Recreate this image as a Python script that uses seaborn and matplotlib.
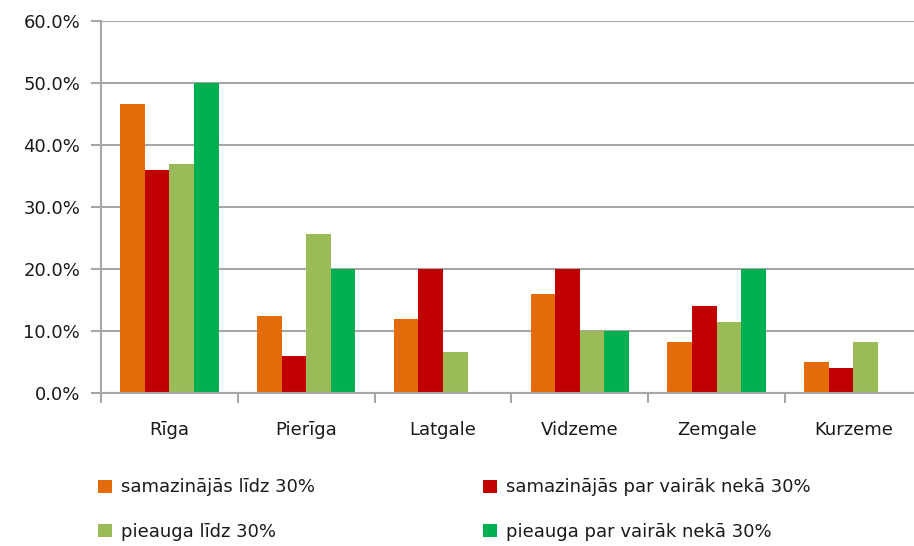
import numpy as np
import matplotlib
matplotlib.use("Agg")
import matplotlib.pyplot as plt
from matplotlib.ticker import PercentFormatter, FixedLocator
import pandas as pd
import seaborn as sns

# Chart data (shares, %)
regions = ['Rīga', 'Pierīga', 'Latgale', 'Vidzeme', 'Zemgale', 'Kurzeme']
series = ['samazinājās līdz 30%', 'samazinājās par vairāk nekā 30%',
          'pieauga līdz 30%', 'pieauga par vairāk nekā 30%']
decr_small = [46.7, 12.4, 11.9, 16.0, 8.2, 5.0]
decr_large = [36.0, 6.0, 20.0, 20.0, 14.0, 4.1]
incr_small = [36.9, 25.6, 6.6, 10.0, 11.5, 8.2]
incr_large = [50.0, 20.0, 0.0, 10.0, 20.0, 0.0]
colors = ['#E36C09', '#C00000', '#9BBB59', '#00B050']

sns.set_style("white")
plt.rcParams['font.family'] = ['DejaVu Sans']

# Long format table for seaborn
values = [decr_small, decr_large, incr_small, incr_large]
df = pd.DataFrame({
    'Region': [r for _ in series for r in regions],
    'Series': [s for s in series for _ in regions],
    'Value': [v for vals in values for v in vals],
})

fig = plt.figure(figsize=(9.14, 5.46), dpi=100)
# plot area runs slightly past the right edge, as in the original
ax = fig.add_axes([0.1105, 0.28, 0.898, 0.6815])

sns.barplot(data=df, x='Region', y='Value', hue='Series', hue_order=series,
            order=regions, palette=colors, width=0.72, saturation=1,
            edgecolor='none', ax=ax, legend=True)

ax.set_ylim(0, 60)
ax.set_xlim(-0.5, len(regions) - 0.5)
ax.yaxis.set_major_locator(FixedLocator(np.arange(0, 61, 10)))
ax.yaxis.set_major_formatter(PercentFormatter(decimals=1))
ax.grid(axis='y', color='#A6A6A6', linewidth=1.5)
ax.set_axisbelow(True)

# Spines
for side in ['top', 'right']:
    ax.spines[side].set_visible(False)
for side in ['left', 'bottom']:
    ax.spines[side].set_color('#A6A6A6')
    ax.spines[side].set_linewidth(1.5)

# Ticks: y ticks outside, x tick marks at category boundaries
ax.tick_params(axis='y', which='major', left=True, length=7, width=1.5,
               color='#A6A6A6', labelsize=13, labelcolor='#1a1a1a', pad=8)
ax.tick_params(axis='x', which='major', bottom=False, length=0, labelsize=13,
               labelcolor='#1a1a1a', pad=20)
ax.set_xticks(np.arange(-0.5, len(regions), 1), minor=True)
ax.tick_params(axis='x', which='minor', bottom=True, length=7, width=1.5,
               color='#A6A6A6')
ax.set_xlabel('')
ax.set_ylabel('')

# Legend in two rows below the plot
handles, labels = ax.get_legend_handles_labels()
ax.get_legend().remove()
order = [0, 2, 1, 3]
fig.legend([handles[i] for i in order], [labels[i] for i in order],
           loc='upper left', bbox_to_anchor=(0.0995, 0.137), ncol=2,
           frameon=False, fontsize=13, handlelength=0.78, handleheight=0.75,
           handletextpad=0.5, columnspacing=9.3, labelspacing=1.45,
           borderaxespad=0, labelcolor='#1a1a1a')

fig.savefig('out.png', dpi=100)
